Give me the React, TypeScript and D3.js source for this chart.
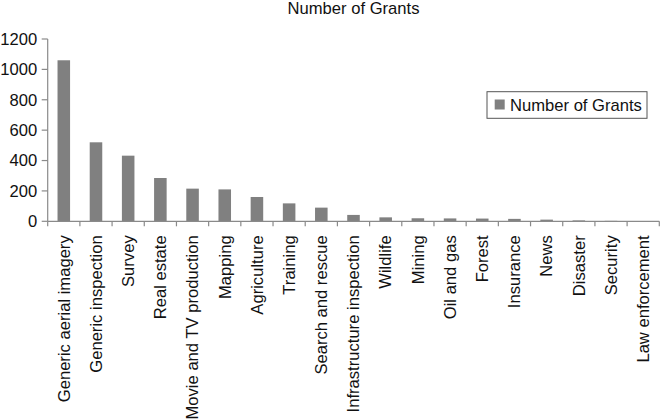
import { useEffect, useRef } from "react";
import * as d3 from "d3";

const categories = [
  "Generic aerial imagery",
  "Generic inspection",
  "Survey",
  "Real estate",
  "Movie and TV production",
  "Mapping",
  "Agriculture",
  "Training",
  "Search and rescue",
  "Infrastructure inspection",
  "Wildlife",
  "Mining",
  "Oil and gas",
  "Forest",
  "Insurance",
  "News",
  "Disaster",
  "Security",
  "Law enforcement",
];

const grants = [1060, 520, 432, 285, 215, 210, 160, 118, 90, 42, 26, 20, 19, 18, 16, 11, 6, 3, 2];

const yTicks = [0, 200, 400, 600, 800, 1000, 1200];

const seriesName = "Number of Grants";

const App = () => {
  const svgRef = useRef<SVGSVGElement>(null);

  useEffect(() => {
    const width = 660,
      height = 420;
    const margin = { top: 39, right: 0.7, bottom: 198.7, left: 47.7 };
    const font = "'Liberation Sans', Arial, sans-serif";
    const fs = 16.6;
    const axisColor = "#8a8a8a";
    const barColor = "#808080";

    const svg = d3.select(svgRef.current);
    svg.selectAll("*").remove();
    svg.attr("width", width).attr("height", height);

    const x = d3
      .scaleBand()
      .domain(categories)
      .range([margin.left, width - margin.right])
      .padding(0);

    const y = d3
      .scaleLinear()
      .domain([0, 1200])
      .range([height - margin.bottom, margin.top]);

    // title
    svg
      .append("text")
      .attr("x", (margin.left + width - margin.right) / 2)
      .attr("y", 14)
      .attr("text-anchor", "middle")
      .attr("font-family", font)
      .attr("font-size", fs)
      .attr("fill", "#111")
      .text(seriesName);

    // bars
    const barW = x.bandwidth() * 0.39;
    svg
      .append("g")
      .selectAll("rect")
      .data(grants)
      .enter()
      .append("rect")
      .attr("x", (_, i) => x(categories[i])! + (x.bandwidth() - barW) / 2)
      .attr("y", (d) => y(d))
      .attr("width", barW)
      .attr("height", (d) => y(0) - y(d))
      .attr("fill", barColor);

    // y axis
    const yAxis = svg.append("g");
    yAxis
      .append("line")
      .attr("x1", margin.left)
      .attr("x2", margin.left)
      .attr("y1", y(1200))
      .attr("y2", y(0))
      .attr("stroke", axisColor)
      .attr("stroke-width", 1.2);
    yTicks.forEach((t) => {
      yAxis
        .append("line")
        .attr("x1", margin.left - 6)
        .attr("x2", margin.left)
        .attr("y1", y(t))
        .attr("y2", y(t))
        .attr("stroke", axisColor)
        .attr("stroke-width", 1.2);
      yAxis
        .append("text")
        .attr("x", margin.left - 10.5)
        .attr("y", y(t))
        .attr("dy", "0.35em")
        .attr("text-anchor", "end")
        .attr("font-family", font)
        .attr("font-size", fs)
        .attr("fill", "#111")
        .text(t);
    });

    // x axis
    const xAxis = svg.append("g");
    xAxis
      .append("line")
      .attr("x1", margin.left)
      .attr("x2", width - margin.right)
      .attr("y1", y(0))
      .attr("y2", y(0))
      .attr("stroke", axisColor)
      .attr("stroke-width", 1.2);
    const bounds = categories.map((c) => x(c)!).concat([width - margin.right]);
    bounds.forEach((b) => {
      xAxis
        .append("line")
        .attr("x1", b)
        .attr("x2", b)
        .attr("y1", y(0))
        .attr("y2", y(0) + 5)
        .attr("stroke", axisColor)
        .attr("stroke-width", 1.2);
    });
    categories.forEach((c) => {
      const cx = x(c)! + x.bandwidth() / 2;
      const ty = y(0) + 14;
      xAxis
        .append("text")
        .attr("x", cx)
        .attr("y", ty)
        .attr("dy", "0.35em")
        .attr("text-anchor", "end")
        .attr("transform", `rotate(-90, ${cx}, ${ty})`)
        .attr("font-family", font)
        .attr("font-size", fs)
        .attr("fill", "#111")
        .text(c);
    });

    // legend
    const legend = svg.append("g").attr("transform", "translate(487, 91.7)");
    legend
      .append("rect")
      .attr("width", 160)
      .attr("height", 26.6)
      .attr("fill", "#fff")
      .attr("stroke", "#555")
      .attr("stroke-width", 1);
    legend
      .append("rect")
      .attr("x", 7.7)
      .attr("y", 7.8)
      .attr("width", 10)
      .attr("height", 10)
      .attr("fill", barColor);
    legend
      .append("text")
      .attr("x", 23)
      .attr("y", 13.3)
      .attr("dy", "0.35em")
      .attr("font-family", font)
      .attr("font-size", fs)
      .attr("fill", "#111")
      .text(seriesName);
  }, []);

  return (
    <svg
      ref={svgRef}
      width={660}
      height={420}
      style={{ position: "absolute", left: 0, top: 0, background: "#fff" }}
    ></svg>
  );
};

export default App;
